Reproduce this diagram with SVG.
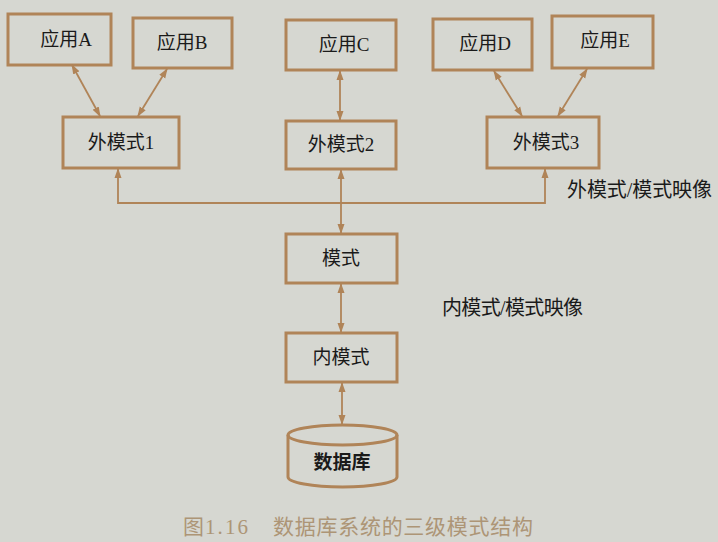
<svg xmlns="http://www.w3.org/2000/svg" width="718" height="542" viewBox="0 0 718 542">
<defs>
<marker id="ah" viewBox="0 0 10 10" refX="9" refY="5" markerWidth="10" markerHeight="10" markerUnits="userSpaceOnUse" orient="auto-start-reverse">
<path d="M0,1.5 L10,5 L0,8.5 Z" fill="#b08458"/>
</marker>
</defs>
<style>
.box{fill:none;stroke:#b08458;stroke-width:3}
.t{font-family:"Liberation Serif","Noto Sans CJK SC",serif;font-size:19px;fill:#1a1a1a;text-anchor:middle}
.lbl{font-family:"Liberation Serif","Noto Sans CJK SC",serif;font-size:20px;fill:#1a1a1a}
.c{fill:none;stroke:#b08458;stroke-width:1.8}
.cap{font-family:"Liberation Serif","Noto Sans CJK SC",serif;font-size:21px;fill:#ad9576}
</style>
<rect width="718" height="542" fill="#d6d7d1"/>
<g id="appA"><rect class="box" x="8" y="14" width="103" height="51"/><text class="t" x="66" y="46">应用A</text></g>
<g id="appB"><rect class="box" x="133" y="18" width="99" height="50"/><text class="t" x="182" y="49">应用B</text></g>
<g id="appC"><rect class="box" x="286" y="20" width="110" height="50"/><text class="t" x="344" y="51">应用C</text></g>
<g id="appD"><rect class="box" x="433" y="19" width="99" height="51"/><text class="t" x="485" y="50">应用D</text></g>
<g id="appE"><rect class="box" x="552" y="16" width="101" height="52"/><text class="t" x="605" y="47">应用E</text></g>
<g id="ext1"><rect class="box" x="63" y="117" width="116" height="51"/><text class="t" x="121" y="149">外模式1</text></g>
<g id="ext2"><rect class="box" x="286" y="121" width="110" height="48"/><text class="t" x="341" y="151">外模式2</text></g>
<g id="ext3"><rect class="box" x="487" y="117" width="112" height="51"/><text class="t" x="546" y="149">外模式3</text></g>
<g id="schema"><rect class="box" x="286" y="234" width="111" height="49"/><text class="t" x="341" y="265">模式</text></g>
<g id="internal"><rect class="box" x="286" y="333" width="111" height="49"/><text class="t" x="341" y="364">内模式</text></g>
<g id="db">
<path class="box" d="M288,435 L288,477 A54.5,10 0 0 0 397,477 L397,435"/>
<ellipse class="box" cx="342.5" cy="435" rx="54.5" ry="10"/>
<text class="t" x="342" y="469" font-weight="bold">数据库</text>
</g>
<g id="connectors">
<line class="c" x1="72" y1="65" x2="100" y2="116" marker-start="url(#ah)" marker-end="url(#ah)"/>
<line class="c" x1="167" y1="69" x2="138" y2="116" marker-start="url(#ah)" marker-end="url(#ah)"/>
<line class="c" x1="340" y1="71" x2="340" y2="120" marker-start="url(#ah)" marker-end="url(#ah)"/>
<line class="c" x1="494" y1="71" x2="522" y2="116" marker-start="url(#ah)" marker-end="url(#ah)"/>
<line class="c" x1="587" y1="69" x2="558" y2="116" marker-start="url(#ah)" marker-end="url(#ah)"/>
<polyline class="c" points="118,169 118,203 545,203 545,169" marker-start="url(#ah)" marker-end="url(#ah)"/>
<line class="c" x1="341" y1="170" x2="341" y2="233" marker-start="url(#ah)" marker-end="url(#ah)"/>
<line class="c" x1="341" y1="284" x2="341" y2="332" marker-start="url(#ah)" marker-end="url(#ah)"/>
<line class="c" x1="342" y1="383" x2="342" y2="424" marker-start="url(#ah)" marker-end="url(#ah)"/>
</g>
<text class="lbl" x="567" y="197" textLength="145">外模式/模式映像</text>
<text class="lbl" x="442" y="315" textLength="141">内模式/模式映像</text>
<text class="cap" y="534"><tspan x="183">图</tspan> <tspan x="205" textLength="43">1.16</tspan> <tspan x="273" textLength="260">数据库系统的三级模式结构</tspan></text>
</svg>
